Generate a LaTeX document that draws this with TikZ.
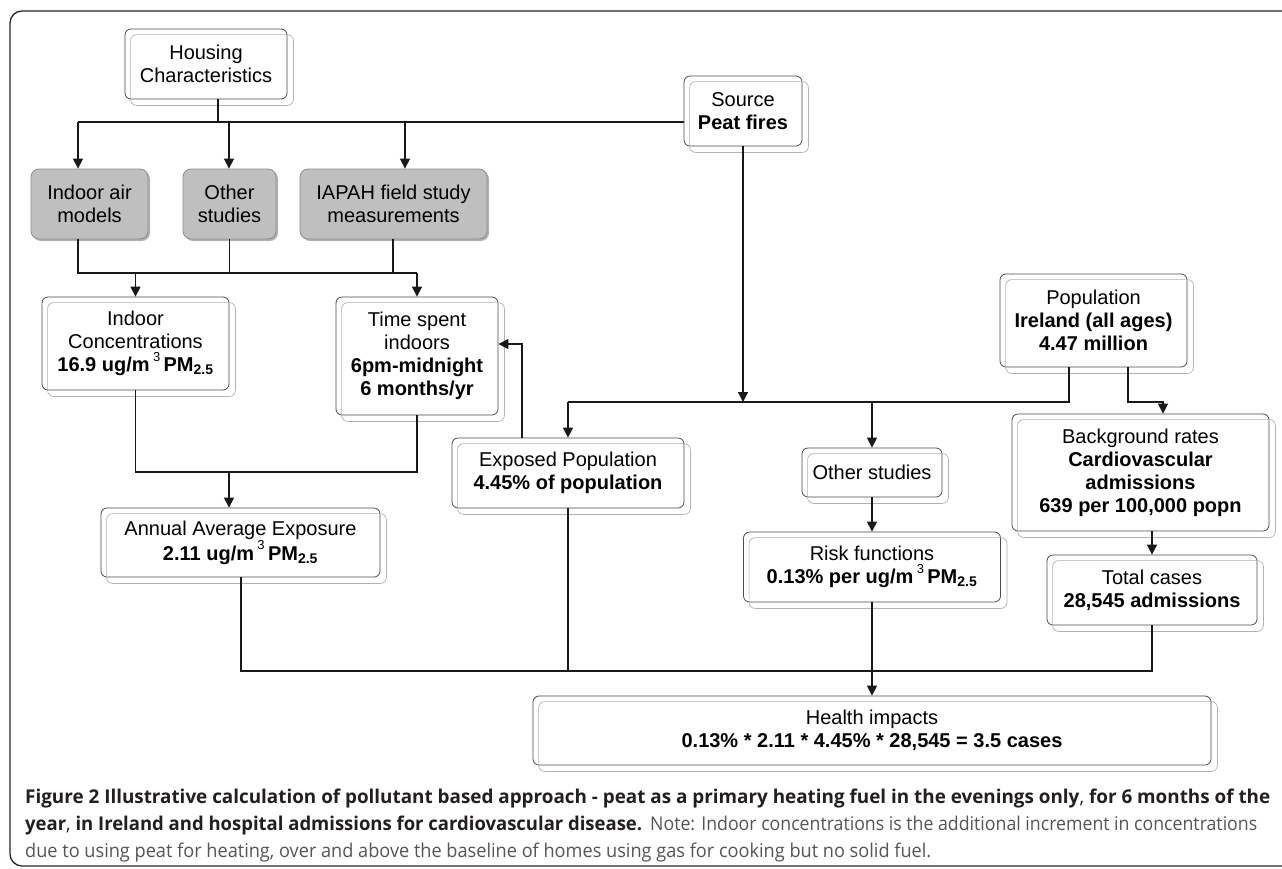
\documentclass[tikz,border=0pt]{standalone}
\usepackage{fontspec}
\usepackage{graphicx}
\setmainfont{Liberation Sans}
\newfontfamily\capfont{Open Sans}
\usetikzlibrary{arrows.meta,shadows,calc}
\definecolor{capgray}{HTML}{555555}
\definecolor{capdark}{HTML}{231F20}
\newcommand\cubed{\,\raisebox{1.0ex}{\fontsize{13}{13}\selectfont\mdseries 3}\,}
\newcommand\pmtwofive{PM\textsubscript{2.5}}
\tikzset{
  line/.style={draw=black!90, line width=1.3pt},
  arr/.style={line, -{Triangle[length=10pt,width=10pt]}},
  wbox/.style={draw=black!70, line width=0.8pt, rounded corners=6pt, align=center,
    inner sep=0pt, font=\fontsize{20}{23}\selectfont},
  gbox/.style={draw=black!45, fill=black!25, line width=0.8pt, rounded corners=8pt,
    align=center, inner sep=0pt, font=\fontsize{20}{23}\selectfont,
    drop shadow={shadow xshift=2pt, shadow yshift=-2pt, opacity=0.3, fill=black}},
  ghostline/.style={draw=black!30, line width=0.7pt, rounded corners=6pt},
  frame/.style={draw=black!85, line width=1.3pt, rounded corners=12pt},
  captxt/.style={anchor=base west, inner sep=0pt, font=\capfont\fontsize{19}{22}\selectfont},
}
\newcommand\boxghost[1]{\draw[ghostline] ([shift={(6,6)}]#1.north west) rectangle ([shift={(6,6)}]#1.south east);}
\begin{document}
\begin{tikzpicture}[x=1pt,y=-1pt]
\useasboundingbox (0,0) rectangle (1282,868);
\fill[white] (0,0) rectangle (1282,868);
\draw[frame] (10,11) rectangle (1300,866);

% white boxes
\node[wbox, minimum width=162, minimum height=70] (housing) at (206,64) {Housing\\Characteristics};
\node[wbox, minimum width=118, minimum height=70] (source) at (743,111) {Source\\\textbf{Peat fires}};
\node[wbox, minimum width=187, minimum height=93] (conc) at (135.5,343.5) {Indoor\\Concentrations\\\textbf{16.9 ug/m\cubed \pmtwofive}};
\node[wbox, minimum width=162, minimum height=118] (time) at (417,356) {Time spent\\indoors\\\textbf{6pm-midnight}\\\textbf{6 months/yr}};
\node[wbox, minimum width=279, minimum height=69] (annual) at (240.5,542.5) {Annual Average Exposure\\\textbf{2.11 ug/m\cubed \pmtwofive}};
\node[wbox, minimum width=232, minimum height=70] (expo) at (568,473) {Exposed Population\\\textbf{4.45\% of population}};
\node[wbox, minimum width=140, minimum height=49] (os2) at (872,472.5) {Other studies};
\node[wbox, minimum width=257, minimum height=70] (risk) at (872,567) {Risk functions\\\textbf{0.13\% per ug/m\cubed \pmtwofive}};
\node[wbox, minimum width=187, minimum height=93] (pop) at (1093.5,320.5) {Population\\\textbf{Ireland (all ages)}\\\textbf{4.47 million}};
\node[wbox, minimum width=257, minimum height=117] (bg) at (1140.5,472.5) {Background rates\\\textbf{Cardiovascular}\\\textbf{admissions}\\\textbf{639 per 100,000 popn}};
\node[wbox, minimum width=210, minimum height=70] (total) at (1152,590) {Total cases\\\textbf{28,545 admissions}};
\node[wbox, minimum width=678, minimum height=69] (health) at (872,730.5) {Health impacts\\\textbf{0.13\% * 2.11 * 4.45\% * 28,545 = 3.5 cases}};
\foreach \n in {housing,source,conc,time,annual,expo,os2,risk,pop,bg,total,health}{\boxghost{\n}}

% grey boxes
\node[gbox, minimum width=117, minimum height=70] (iam) at (89.5,204) {Indoor air\\models};
\node[gbox, minimum width=93, minimum height=70] (os1) at (229.5,204) {Other\\studies};
\node[gbox, minimum width=187, minimum height=70] (iapah) at (393.5,204) {IAPAH field study\\measurements};

% junction coordinates
\coordinate (tl) at (78,122);
\coordinate (hs) at (218,122);
\coordinate (ot) at (229,122);
\coordinate (it) at (405,122);
\coordinate (ml) at (78,273);
\coordinate (mr) at (417,273);
\coordinate (ib) at (393,273);
\coordinate (lowj) at (229,472);
\coordinate (sj) at (743,402);
\coordinate (pl) at (1069,402);
\coordinate (pr) at (1128,402);
\coordinate (bgt) at (1163,402);
\coordinate (fb) at (522,344);
\coordinate (bl) at (241,671);

% top level
\draw[line] (hs |- housing.south) -- (hs);
\draw[line] (tl) -- (source.west |- tl);
\draw[arr] (tl) -- (tl |- iam.north);
\draw[arr] (ot) -- (ot |- os1.north);
\draw[arr] (it) -- (it |- iapah.north);

% second level
\draw[line] (ml |- iam.south) -- (ml) -- (mr);
\draw[line] (os1.south) -- (os1.south |- ml);
\draw[line] (ib |- iapah.south) -- (ib);
\draw[arr] (conc.north |- ml) -- (conc.north);
\draw[arr] (mr) -- (time.north);

% exposure
\draw[line] (conc.south) |- (lowj) -| (time.south);
\draw[arr] (lowj) -- (lowj |- annual.north);

% source and population
\draw[arr] (source.south) -- (sj);
\draw[line] (pl |- pop.south) -- (pl) -- (expo.north |- pl);
\draw[arr] (expo.north |- pl) -- (expo.north);
\draw[arr] (os2.north |- pl) -- (os2.north);
\draw[arr] (pr |- pop.south) -- (pr) -- (bgt) -- (bgt |- bg.north);
\draw[arr] (fb |- expo.north) -- (fb) -- (time.east |- fb);
\draw[arr] (os2.south) -- (os2.south |- risk.north);
\draw[arr] (total.north |- bg.south) -- (total.north);

% bottom
\draw[line] (bl |- annual.south) -- (bl) -- (total.south |- bl) -- (total.south);
\draw[line] (expo.south) -- (expo.south |- bl);
\draw[arr] (risk.south) -- (risk.south |- health.north);

% caption
\node[captxt, text=capdark] (cap1) at (25,803) {\resizebox{1245pt}{\height}{\textbf{Figure 2 Illustrative calculation of pollutant based approach - peat as a primary heating fuel in the evenings only}, \textbf{for 6 months of the}}};
\node[captxt, text=capdark] (cap2) at (25,830) {\resizebox{617pt}{\height}{\textbf{year}, \textbf{in Ireland and hospital admissions for cardiovascular disease.}}};
\node[captxt, text=capgray] (cap2b) at (650,830) {\resizebox{607pt}{\height}{Note: Indoor concentrations is the additional increment in concentrations}};
\node[captxt, text=capgray] (cap3) at (25,857) {\resizebox{906pt}{\height}{due to using peat for heating, over and above the baseline of homes using gas for cooking but no solid fuel.}};
\end{tikzpicture}
\end{document}
